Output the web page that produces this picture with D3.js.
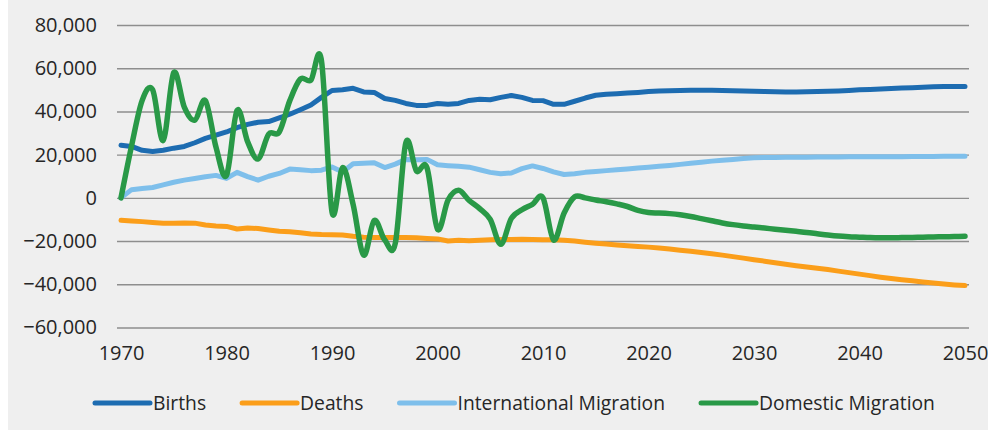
<!DOCTYPE html>
<html>
<head>
<meta charset="utf-8">
<script src="https://cdn.jsdelivr.net/npm/d3@7"></script>
<style>
  body { margin: 0; background: #fff; }
  text { font-family: "Open Sans", sans-serif; fill: #262626; }
</style>
</head>
<body>
<div id="chart"></div>
<script>
// years 1970..2050
var years = d3.range(1970, 2051);

var births = [
  24300, 23800, 22000, 21500, 22000, 23000, 23800, 25500, 27500, 29000,
  30500, 32500, 34000, 35000, 35300, 37000, 38700, 40800, 43000, 46500,
  49700, 50000, 50700, 49000, 48800, 46000, 45100, 43700, 42800, 42800,
  43700, 43300, 43700, 45100, 45600, 45400, 46500, 47400, 46500, 45100,
  45000, 43300, 43300, 44700, 46200, 47500, 48000, 48200, 48500, 48800,
  49200, 49400, 49600, 49700, 49800, 49800, 49800, 49700, 49600, 49500,
  49300, 49200, 49100, 49000, 49000, 49100, 49200, 49300, 49500, 49700,
  50000, 50200, 50400, 50600, 50800, 51000, 51200, 51400, 51500, 51500,
  51500
];

var deaths = [
  -10400, -10700, -11000, -11400, -11700, -11800, -11600, -11700, -12600, -13000,
  -13200, -14400, -14000, -14200, -14900, -15500, -15700, -16200, -16700, -17000,
  -17100, -17200, -17800, -18200, -18400, -18400, -18300, -18400, -18500, -18800,
  -19000, -20000, -19600, -19800, -19600, -19400, -19300, -19300, -19200, -19300,
  -19400, -19400, -19600, -20000, -20500, -21000, -21400, -21800, -22200, -22500,
  -22800, -23200, -23700, -24200, -24700, -25300, -25900, -26500, -27200, -27900,
  -28600, -29300, -30000, -30700, -31400, -32000, -32600, -33200, -33900, -34600,
  -35300, -36000, -36700, -37300, -37900, -38400, -38900, -39400, -39900, -40300,
  -40600
];

var intlMigration = [
  0, 3800, 4300, 4800, 6000, 7200, 8200, 9000, 9800, 10400,
  9000, 11800, 9800, 8200, 10000, 11300, 13300, 13000, 12600, 12800,
  14300, 12000, 15800, 16000, 16300, 14000, 15600, 17800, 17600, 17800,
  15300, 14900, 14600, 14200, 13000, 11800, 11200, 11500, 13500, 14800,
  13600, 12000, 10800, 11200, 11800, 12200, 12600, 13000, 13400, 13800,
  14200, 14600, 15000, 15500, 16000, 16500, 17000, 17400, 17800, 18200,
  18600, 18700, 18700, 18800, 18800, 18800, 18900, 18900, 18900, 19000,
  19000, 19000, 19000, 19000, 19000, 19100, 19100, 19100, 19200, 19200,
  19200
];

var domMigration = [
  0, 24000, 45000, 50000, 26600, 58000, 42000, 36000, 45000, 23500,
  10400, 40500, 26000, 18000, 29500, 30500, 45000, 55000, 54500, 63500,
  -6500, 14000, -3000, -26500, -10500, -19500, -21000, 25500, 12500, 14000,
  -14500, -1000, 3500, -1200, -5000, -10000, -21500, -9500, -5500, -3000,
  0, -19500, -7000, 500, 0, -1000, -1800, -2800, -4000, -5800,
  -6800, -7000, -7300, -7800, -8600, -9600, -10600, -11600, -12400, -13000,
  -13500, -14000, -14500, -15000, -15500, -16000, -16600, -17200, -17700, -18000,
  -18200, -18400, -18500, -18500, -18400, -18300, -18200, -18100, -18000, -17900,
  -17800
];

var seriesNames = ["Births", "Deaths", "International Migration", "Domestic Migration"];
var seriesColors = ["#1d6cb1", "#fb9e1a", "#7ebfeb", "#299947"];
var yTicks = [-60000, -40000, -20000, 0, 20000, 40000, 60000, 80000];
var xTicks = [1970, 1980, 1990, 2000, 2010, 2020, 2030, 2040, 2050];

var width = 988, height = 430;
var svg = d3.select("#chart").append("svg")
  .attr("width", width)
  .attr("height", height);

svg.append("rect")
  .attr("x", 8).attr("y", 0)
  .attr("width", width - 8).attr("height", height)
  .attr("fill", "#efefef");

var x = d3.scaleLinear().domain([1970, 2050]).range([121, 965]);
var y = d3.scaleLinear().domain([-60000, 80000]).range([327.5, 25]);
var gridLeft = 117, gridRight = 969;

var yAxis = svg.append("g")
  .attr("transform", "translate(" + gridLeft + ",0)")
  .call(d3.axisLeft(y)
    .tickValues(yTicks)
    .tickSize(-(gridRight - gridLeft))
    .tickPadding(20)
    .tickFormat(d3.format(",")));
yAxis.select(".domain").remove();
yAxis.selectAll(".tick line")
  .attr("stroke", "#8e8e8e")
  .attr("stroke-width", 1.4);
yAxis.selectAll(".tick text")
  .attr("font-size", 20)
  .attr("fill", "#262626");

var xAxis = svg.append("g")
  .attr("transform", "translate(0," + y(-60000) + ")")
  .call(d3.axisBottom(x)
    .tickValues(xTicks)
    .tickSize(0)
    .tickPadding(18)
    .tickFormat(d3.format("d")));
xAxis.select(".domain").remove();
xAxis.selectAll(".tick text")
  .attr("font-size", 20)
  .attr("fill", "#262626");

var allSeries = [births, deaths, intlMigration, domMigration];

allSeries.forEach(function (values, i) {
  var line = d3.line()
    .x(function (d, j) { return x(years[j]); })
    .y(function (d) { return y(d); })
    .curve(i === 3 ? d3.curveCardinal.tension(0) : d3.curveLinear);
  svg.append("path")
    .datum(values)
    .attr("fill", "none")
    .attr("stroke", seriesColors[i])
    .attr("stroke-width", i === 3 ? 5.5 : 5)
    .attr("stroke-linecap", "round")
    .attr("stroke-linejoin", "round")
    .attr("d", line);
});

// legend, laid out left to right
var legend = svg.append("g").attr("class", "legend");
var lx = 95, ly = 403;
seriesNames.forEach(function (name, i) {
  var item = legend.append("g");
  item.append("line")
    .attr("x1", lx).attr("x2", lx + 55)
    .attr("y1", ly).attr("y2", ly)
    .attr("stroke", seriesColors[i])
    .attr("stroke-width", 5)
    .attr("stroke-linecap", "round");
  var t = item.append("text")
    .attr("x", lx + 58)
    .attr("y", ly)
    .attr("dy", "0.35em")
    .attr("font-size", 19.3)
    .text(name);
  lx += 58 + t.node().getComputedTextLength() + 36;
});
</script>
</body>
</html>
